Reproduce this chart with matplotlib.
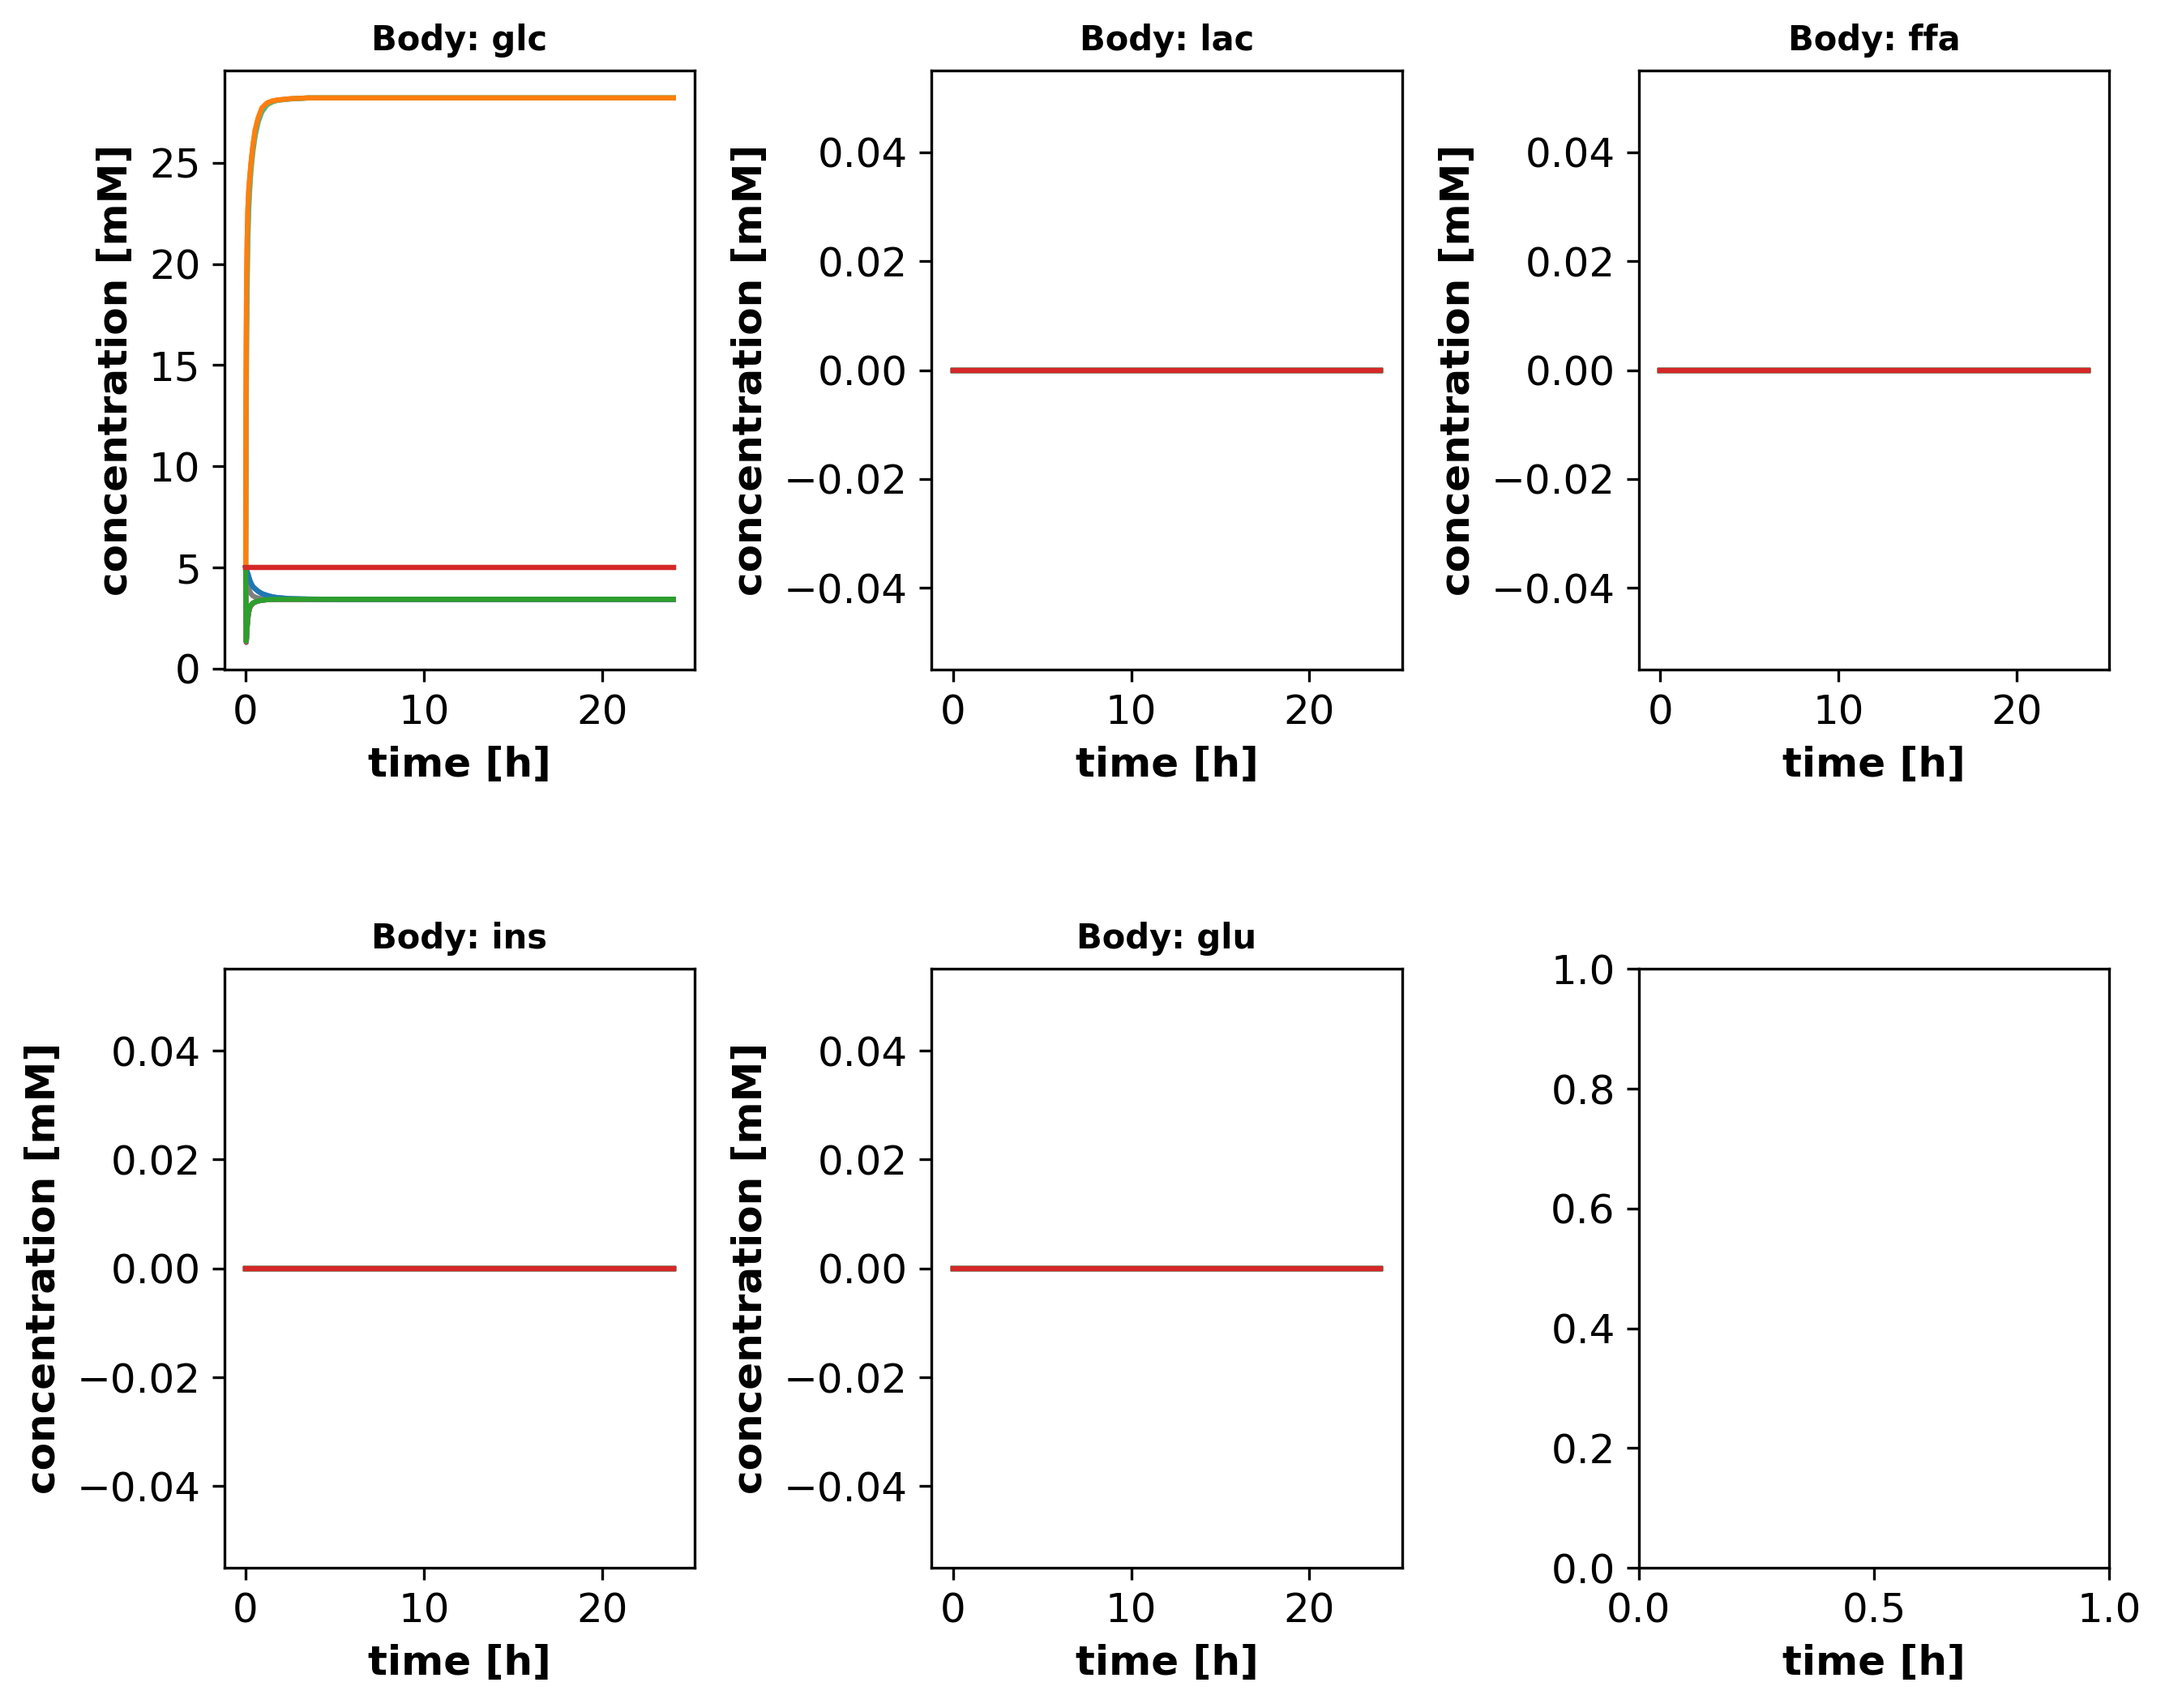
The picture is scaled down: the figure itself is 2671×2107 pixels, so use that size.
import numpy as np
import matplotlib
matplotlib.use('Agg')
import matplotlib.pyplot as plt

# time points (h)
t_glc = [0, 0.01, 0.02, 0.03, 0.05, 0.08, 0.12, 0.17, 0.23, 0.3, 0.4, 0.53, 0.7, 0.91, 1.2, 1.5, 1.8, 2.5, 3.5, 5, 24]

# rising curves (orange / olive / cyan)
glc_rise_a = [5.0, 9.0, 13.0, 16.0, 19.0, 21.0, 22.6, 23.6, 24.3, 25.0, 25.8, 26.6, 27.2, 27.7, 27.95, 28.05, 28.1, 28.16, 28.2, 28.2, 28.2]
glc_rise_b = [5.0, 7.0, 9.5, 12.0, 15.5, 18.5, 21.0, 22.6, 23.7, 24.6, 25.5, 26.3, 27.0, 27.5, 27.85, 28.0, 28.08, 28.15, 28.2, 28.2, 28.2]
glc_rise_c = [5.0, 7.5, 10.5, 13.0, 16.5, 19.3, 21.5, 22.9, 23.9, 24.8, 25.6, 26.4, 27.05, 27.55, 27.9, 28.02, 28.09, 28.15, 28.2, 28.2, 28.2]
# decaying curves (blue / gray)
glc_decay_slow = [5.0, 4.98, 4.95, 4.92, 4.87, 4.8, 4.7, 4.55, 4.38, 4.22, 4.06, 3.95, 3.82, 3.71, 3.62, 3.55, 3.51, 3.46, 3.44, 3.43, 3.43]
glc_decay_fast = [5.0, 4.95, 4.88, 4.8, 4.65, 4.45, 4.2, 3.98, 3.82, 3.7, 3.6, 3.54, 3.49, 3.46, 3.44, 3.43, 3.43, 3.43, 3.43, 3.43, 3.43]
# dipping curves (green / purple / brown / pink)
glc_dip_a = [5.0, 3.2, 2.0, 1.37, 1.6, 2.1, 2.55, 2.85, 3.05, 3.15, 3.24, 3.3, 3.35, 3.38, 3.41, 3.42, 3.43, 3.43, 3.43, 3.43, 3.43]
glc_dip_b = [5.0, 3.0, 1.8, 1.3, 1.5, 2.0, 2.45, 2.78, 3.0, 3.12, 3.22, 3.29, 3.34, 3.38, 3.41, 3.42, 3.43, 3.43, 3.43, 3.43, 3.43]
# flat red
glc_flat = [5.0, 5.0, 5.0, 5.0, 5.0, 5.0, 5.0, 5.0, 5.0, 5.0, 5.0, 5.0, 5.0, 5.0, 5.0, 5.0, 5.0, 5.0, 5.0, 5.0, 5.0]

glc_series = [glc_decay_slow, glc_rise_a, glc_dip_a, glc_flat,
              glc_dip_b, glc_dip_b, glc_dip_a, glc_decay_fast,
              glc_rise_b, glc_rise_c,
              glc_decay_slow, glc_rise_a, glc_dip_a, glc_flat]

# other species stay at zero the whole run
t_flat = [0, 24]
lac_vals = [0.0, 0.0]
ffa_vals = [0.0, 0.0]
ins_vals = [0.0, 0.0]
glu_vals = [0.0, 0.0]

species = ['glc', 'lac', 'ffa', 'ins', 'glu']
n_lines = len(glc_series)

plt.rcParams['font.family'] = 'DejaVu Sans'
fig, axes = plt.subplots(2, 3, figsize=(2671 / 300, 2107 / 300), dpi=300)
fig.subplots_adjust(left=0.1036, right=0.9743, top=0.9586, bottom=0.0820,
                    wspace=0.503, hspace=0.5)
axes = axes.flatten()

for i, name in enumerate(species):
    ax = axes[i]
    if name == 'glc':
        for y in glc_series:
            ax.plot(t_glc, y, lw=1.5)
    else:
        vals = {'lac': lac_vals, 'ffa': ffa_vals, 'ins': ins_vals, 'glu': glu_vals}[name]
        for k in range(n_lines):
            ax.plot(t_flat, vals, lw=1.5)
    ax.set_title('Body: ' + name, fontsize=10, fontweight='bold')
    ax.set_ylabel('concentration [mM]', fontsize=12, fontweight='bold')

for ax in axes:
    ax.set_xlabel('time [h]', fontsize=12, fontweight='bold')
    ax.tick_params(labelsize=12)

fig.savefig('out.png', dpi=300)
